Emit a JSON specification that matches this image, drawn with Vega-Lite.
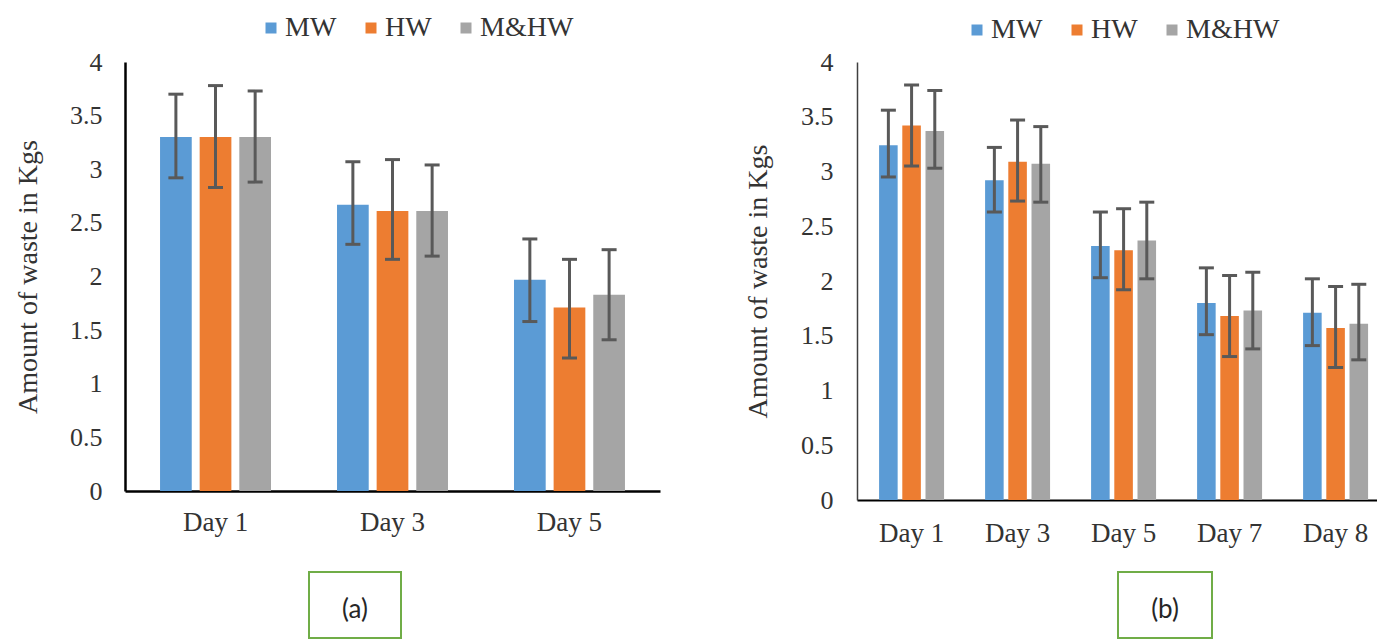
{
  "$schema": "https://vega.github.io/schema/vega-lite/v6.json",
  "background": "white",
  "autosize": {"type": "pad"},
  "padding": {"left": 14, "top": 14, "right": 0, "bottom": 0},
  "datasets": {
    "a": [
      {"day": "Day 1", "type": "MW", "value": 3.30, "lo": 2.92, "hi": 3.70},
      {"day": "Day 1", "type": "HW", "value": 3.30, "lo": 2.83, "hi": 3.78},
      {"day": "Day 1", "type": "M&HW", "value": 3.30, "lo": 2.88, "hi": 3.73},
      {"day": "Day 3", "type": "MW", "value": 2.67, "lo": 2.30, "hi": 3.07},
      {"day": "Day 3", "type": "HW", "value": 2.61, "lo": 2.16, "hi": 3.09},
      {"day": "Day 3", "type": "M&HW", "value": 2.61, "lo": 2.19, "hi": 3.04},
      {"day": "Day 5", "type": "MW", "value": 1.97, "lo": 1.58, "hi": 2.35},
      {"day": "Day 5", "type": "HW", "value": 1.71, "lo": 1.24, "hi": 2.16},
      {"day": "Day 5", "type": "M&HW", "value": 1.83, "lo": 1.41, "hi": 2.25}
    ],
    "b": [
      {"day": "Day 1", "type": "MW", "value": 3.24, "lo": 2.95, "hi": 3.56},
      {"day": "Day 1", "type": "HW", "value": 3.42, "lo": 3.05, "hi": 3.79},
      {"day": "Day 1", "type": "M&HW", "value": 3.37, "lo": 3.03, "hi": 3.74},
      {"day": "Day 3", "type": "MW", "value": 2.92, "lo": 2.63, "hi": 3.22},
      {"day": "Day 3", "type": "HW", "value": 3.09, "lo": 2.73, "hi": 3.47},
      {"day": "Day 3", "type": "M&HW", "value": 3.07, "lo": 2.72, "hi": 3.41},
      {"day": "Day 5", "type": "MW", "value": 2.32, "lo": 2.03, "hi": 2.63},
      {"day": "Day 5", "type": "HW", "value": 2.28, "lo": 1.92, "hi": 2.66},
      {"day": "Day 5", "type": "M&HW", "value": 2.37, "lo": 2.02, "hi": 2.72},
      {"day": "Day 7", "type": "MW", "value": 1.80, "lo": 1.51, "hi": 2.12},
      {"day": "Day 7", "type": "HW", "value": 1.68, "lo": 1.31, "hi": 2.05},
      {"day": "Day 7", "type": "M&HW", "value": 1.73, "lo": 1.38, "hi": 2.08},
      {"day": "Day 8", "type": "MW", "value": 1.71, "lo": 1.41, "hi": 2.02},
      {"day": "Day 8", "type": "HW", "value": 1.57, "lo": 1.21, "hi": 1.95},
      {"day": "Day 8", "type": "M&HW", "value": 1.61, "lo": 1.28, "hi": 1.97}
    ]
  },
  "vconcat": [
    {
      "hconcat": [
        {
          "width": 535,
          "height": 429,
          "data": {"name": "a"},
          "encoding": {
            "x": {"field": "day", "type": "nominal", "sort": null,
                  "scale": {"paddingInner": 0.373, "paddingOuter": 0.198},
                  "axis": {"title": null, "labelAngle": 0, "domainWidth": 2.5, "domainColor": "#000", "labelPadding": 18,
                           "labelFontSize": 27, "labelFont": "Liberation Serif"}},
            "xOffset": {"field": "type", "type": "nominal", "sort": ["MW", "HW", "M&HW"],
                        "scale": {"paddingInner": 0.2, "paddingOuter": 0}}
          },
          "layer": [
            {
              "mark": {"type": "bar"},
              "encoding": {
                "y": {"field": "value", "type": "quantitative", "scale": {"domain": [0, 4], "nice": false},
                      "axis": {"title": "Amount of waste in Kgs", "values": [0, 0.5, 1, 1.5, 2, 2.5, 3, 3.5, 4], "format": "~g",
                               "domainWidth": 2.5, "domainColor": "#000", "labelPadding": 23, "titlePadding": 27,
                               "labelFont": "Liberation Serif", "titleFont": "Liberation Serif", "titleFontSize": 28}},
                "color": {"field": "type", "type": "nominal", "sort": ["MW", "HW", "M&HW"],
                          "scale": {"domain": ["MW", "HW", "M&HW"], "range": ["#5b9bd5", "#ed7d31", "#a5a5a5"]},
                          "legend": {"title": null, "orient": "none", "direction": "horizontal", "legendX": 132, "legendY": -48}}
              }
            },
            {
              "mark": {"type": "rule", "color": "#595959", "strokeWidth": 3},
              "encoding": {
                "y": {"field": "lo", "type": "quantitative",
                      "axis": {"title": "Amount of waste in Kgs", "values": [0, 0.5, 1, 1.5, 2, 2.5, 3, 3.5, 4], "format": "~g",
                               "domainWidth": 2.5, "domainColor": "#000", "labelPadding": 23, "titlePadding": 27,
                               "labelFont": "Liberation Serif", "titleFont": "Liberation Serif", "titleFontSize": 28}},
                "y2": {"field": "hi"}
              }
            },
            {
              "mark": {"type": "tick", "color": "#595959", "thickness": 3, "size": 15, "opacity": 1},
              "encoding": {"y": {"field": "lo", "type": "quantitative",
                      "axis": {"title": "Amount of waste in Kgs", "values": [0, 0.5, 1, 1.5, 2, 2.5, 3, 3.5, 4], "format": "~g",
                               "domainWidth": 2.5, "domainColor": "#000", "labelPadding": 23, "titlePadding": 27,
                               "labelFont": "Liberation Serif", "titleFont": "Liberation Serif", "titleFontSize": 28}}}
            },
            {
              "mark": {"type": "tick", "color": "#595959", "thickness": 3, "size": 15, "opacity": 1},
              "encoding": {"y": {"field": "hi", "type": "quantitative",
                      "axis": {"title": "Amount of waste in Kgs", "values": [0, 0.5, 1, 1.5, 2, 2.5, 3, 3.5, 4], "format": "~g",
                               "domainWidth": 2.5, "domainColor": "#000", "labelPadding": 23, "titlePadding": 27,
                               "labelFont": "Liberation Serif", "titleFont": "Liberation Serif", "titleFontSize": 28}}}
            }
          ]
        },
        {
          "width": 521,
          "height": 438,
          "data": {"name": "b"},
          "encoding": {
            "x": {"field": "day", "type": "nominal", "sort": null,
                  "scale": {"paddingInner": 0.387, "paddingOuter": 0.151, "align": 0.69},
                  "axis": {"title": null, "labelAngle": 0, "domainWidth": 2, "domainColor": "#000", "labelPadding": 20,
                           "labelFontSize": 27, "labelFont": "Liberation Serif"}},
            "xOffset": {"field": "type", "type": "nominal", "sort": ["MW", "HW", "M&HW"],
                        "scale": {"paddingInner": 0.2, "paddingOuter": 0}}
          },
          "layer": [
            {
              "mark": {"type": "bar"},
              "encoding": {
                "y": {"field": "value", "type": "quantitative", "scale": {"domain": [0, 4], "nice": false},
                      "axis": {"title": "Amount of waste in Kgs", "values": [0, 0.5, 1, 1.5, 2, 2.5, 3, 3.5, 4], "format": "~g",
                               "domainWidth": 1.5, "domainColor": "#404040", "labelPadding": 24, "titlePadding": 28,
                               "labelFont": "Liberation Serif", "titleFont": "Liberation Serif", "titleFontSize": 28}},
                "color": {"field": "type", "type": "nominal", "sort": ["MW", "HW", "M&HW"],
                          "scale": {"domain": ["MW", "HW", "M&HW"], "range": ["#5b9bd5", "#ed7d31", "#a5a5a5"]},
                          "legend": {"title": null, "orient": "none", "direction": "horizontal", "legendX": 106, "legendY": -46}}
              }
            },
            {
              "mark": {"type": "rule", "color": "#595959", "strokeWidth": 3},
              "encoding": {
                "y": {"field": "lo", "type": "quantitative",
                      "axis": {"title": "Amount of waste in Kgs", "values": [0, 0.5, 1, 1.5, 2, 2.5, 3, 3.5, 4], "format": "~g",
                               "domainWidth": 1.5, "domainColor": "#404040", "labelPadding": 24, "titlePadding": 28,
                               "labelFont": "Liberation Serif", "titleFont": "Liberation Serif", "titleFontSize": 28}},
                "y2": {"field": "hi"}
              }
            },
            {
              "mark": {"type": "tick", "color": "#595959", "thickness": 3, "size": 15, "opacity": 1},
              "encoding": {"y": {"field": "lo", "type": "quantitative",
                      "axis": {"title": "Amount of waste in Kgs", "values": [0, 0.5, 1, 1.5, 2, 2.5, 3, 3.5, 4], "format": "~g",
                               "domainWidth": 1.5, "domainColor": "#404040", "labelPadding": 24, "titlePadding": 28,
                               "labelFont": "Liberation Serif", "titleFont": "Liberation Serif", "titleFontSize": 28}}}
            },
            {
              "mark": {"type": "tick", "color": "#595959", "thickness": 3, "size": 15, "opacity": 1},
              "encoding": {"y": {"field": "hi", "type": "quantitative",
                      "axis": {"title": "Amount of waste in Kgs", "values": [0, 0.5, 1, 1.5, 2, 2.5, 3, 3.5, 4], "format": "~g",
                               "domainWidth": 1.5, "domainColor": "#404040", "labelPadding": 24, "titlePadding": 28,
                               "labelFont": "Liberation Serif", "titleFont": "Liberation Serif", "titleFontSize": 28}}}
            }
          ]
        }
      ],
      "spacing": 84,
      "resolve": {"scale": {"color": "independent", "xOffset": "independent"}, "legend": {"color": "independent"}}
    },
    {
      "hconcat": [
        {"width": 182, "height": 10, "data": {"values": []}, "mark": "point", "view": {"stroke": "transparent"}},
        {"width": 92, "height": 66, "data": {"values": [{"label": "(a)"}]},
         "mark": {"type": "text", "font": "Lato", "fontSize": 26, "color": "#262626", "dy": 5},
         "encoding": {"text": {"field": "label"}},
         "view": {"stroke": "#70ad47", "strokeWidth": 2}},
        {"width": 713, "height": 10, "data": {"values": []}, "mark": "point", "view": {"stroke": "transparent"}},
        {"width": 94, "height": 66, "data": {"values": [{"label": "(b)"}]},
         "mark": {"type": "text", "font": "Lato", "fontSize": 26, "color": "#262626", "dy": 5},
         "encoding": {"text": {"field": "label"}},
         "view": {"stroke": "#70ad47", "strokeWidth": 2}}
      ],
      "spacing": 0
    }
  ],
  "spacing": 25,
  "resolve": {"scale": {"color": "independent", "xOffset": "independent"}, "legend": {"color": "independent"}},
  "config": {
    "view": {"stroke": null},
    "font": "Liberation Serif",
    "axis": {"labelFont": "Liberation Serif", "titleFont": "Liberation Serif", "labelFontSize": 26, "titleFontSize": 28,
             "titleFontWeight": "normal", "labelColor": "#333", "titleColor": "#333", "grid": false, "ticks": false},
    "legend": {"labelFont": "Liberation Serif", "labelFontSize": 28, "labelColor": "#333", "symbolType": "square",
               "symbolSize": 121, "symbolStrokeWidth": 0, "padding": 0, "columnPadding": 20, "labelOffset": 0}
  }
}
